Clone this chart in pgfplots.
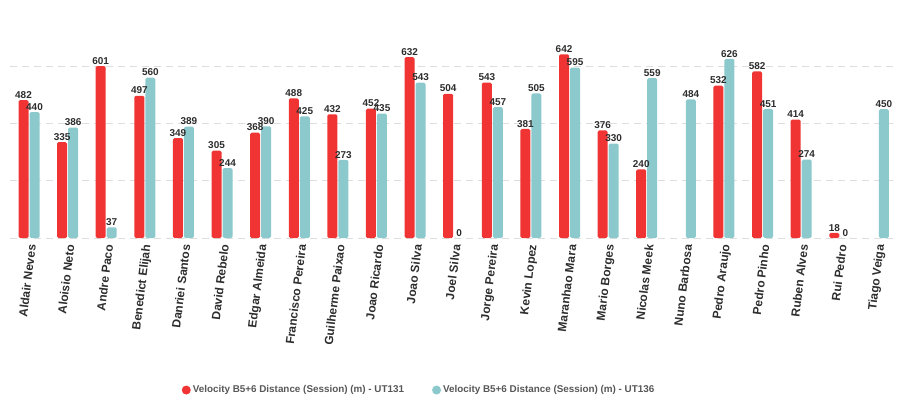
\documentclass[border=0pt]{standalone}
\usepackage{pgfplots}
\pgfplotsset{compat=1.18}
\usepackage{fontspec}
\setmainfont{Liberation Sans}
\definecolor{cRed}{RGB}{240,52,52}
\definecolor{cTeal}{RGB}{140,201,204}
\definecolor{cTxt}{RGB}{45,45,45}
\definecolor{cGrid}{RGB}{222,222,222}
\begin{document}
\begin{tikzpicture}
\begin{axis}[
  scale only axis,
  width=888bp, height=200.34bp,
  xmin=-0.5, xmax=22.5, ymin=0, ymax=700,
  ybar=1bp, bar width=10bp,
  axis line style={draw=none}, tick style={draw=none},
  ytick={0,200,400,600}, yticklabels={},
  ymajorgrids, grid style={cGrid, dash pattern=on 7bp off 5bp, line width=0.8bp},
  xtick={0,...,22},
  xticklabels={Aldair Neves,Aloisio Neto,Andre Paco,Benedict Elijah,Danriei Santos,David Rebelo,Edgar Almeida,Francisco Pereira,Guilherme Paixao,Joao Ricardo,Joao Silva,Joel Silva,Jorge Pereira,Kevin Lopez,Maranhao Mara,Mario Borges,Nicolas Meek,Nuno Barbosa,Pedro Araujo,Pedro Pinho,Ruben Alves,Rui Pedro,Tiago Veiga},
  xticklabel style={rotate=83, anchor=east, font=\bfseries\fontsize{12}{12}\selectfont, text=cTxt, inner sep=2bp, yshift=-3bp},
  nodes near coords,
  every node near coord/.append style={font=\bfseries\fontsize{10}{10}\selectfont, text=cTxt, inner sep=1.5bp, /pgf/number format/assume math mode=true},
  legend columns=2,
  legend style={at={(0.461,-0.759)}, anchor=center, draw=none, fill=none,
    font=\bfseries\fontsize{9.9}{10}\selectfont, text=cTxt!80,
    /tikz/every even column/.append style={column sep=26bp}},
  legend image code/.code={\fill[#1] (0bp,0bp) circle (4.5bp);},
  clip=false,
]
\addplot[fill=cRed, draw=none, rounded corners=1.5bp] coordinates {
(0,482) (1,335) (2,601) (3,497) (4,349) (5,305) (6,368) (7,488) (8,432) (9,452) (10,632) (11,504) (12,543) (13,381) (14,642) (15,376) (16,240) (18,532) (19,582) (20,414) (21,18)};
\addlegendentry{Velocity B5+6 Distance (Session) (m) - UT131}
\addplot[fill=cTeal, draw=none, rounded corners=1.5bp] coordinates {
(0,440) (1,386) (2,37) (3,560) (4,389) (5,244) (6,390) (7,425) (8,273) (9,435) (10,543) (11,0) (12,457) (13,505) (14,595) (15,330) (16,559) (17,484) (18,626) (19,451) (20,274) (21,0) (22,450)};
\addlegendentry{Velocity B5+6 Distance (Session) (m) - UT136}
\coordinate (bl) at (rel axis cs:0,0);
\end{axis}
\pgfresetboundingbox
\path[use as bounding box] (bl) ++(-9.7bp,-167bp) rectangle ++(901bp,405bp);
\end{tikzpicture}
\end{document}
